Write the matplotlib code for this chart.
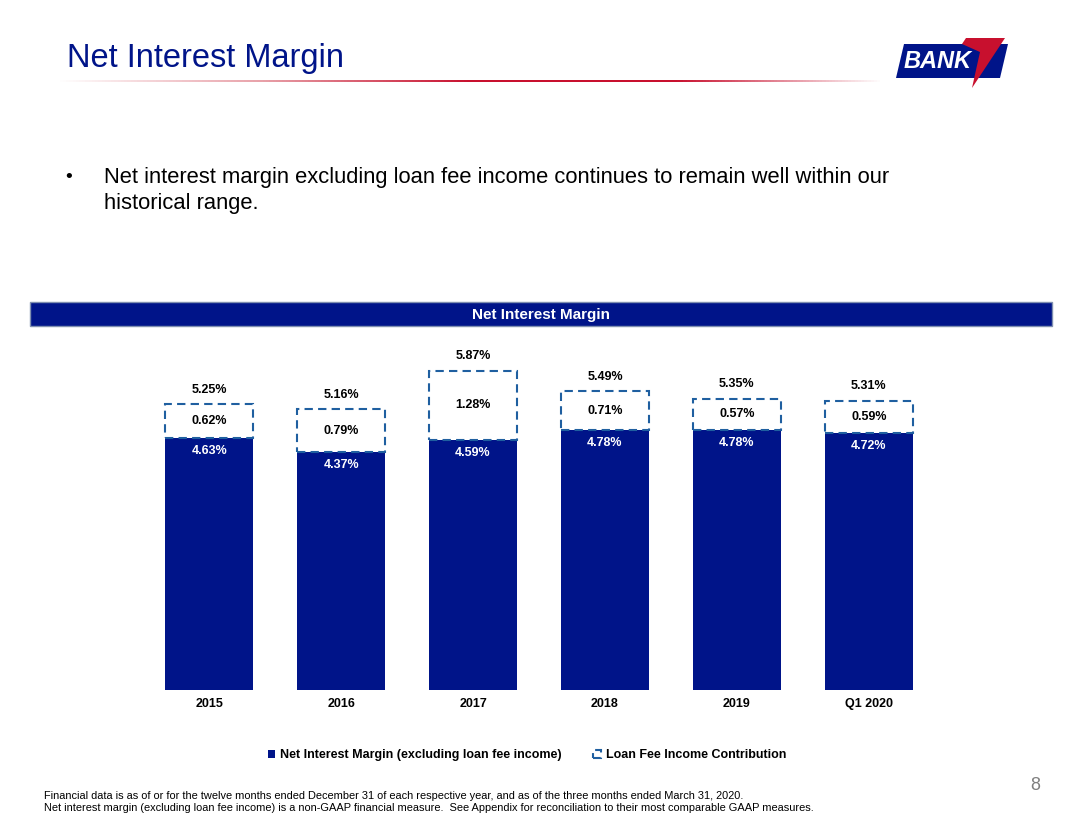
import numpy as np
import matplotlib
matplotlib.use("Agg")
from matplotlib import pyplot as plt
from matplotlib.patches import Rectangle, Polygon

categories = ["2015", "2016", "2017", "2018", "2019", "Q1 2020"]
nim_ex_fee = [4.63, 4.37, 4.59, 4.78, 4.78, 4.72]
fee_contrib = [0.62, 0.79, 1.28, 0.71, 0.57, 0.59]
totals = [5.25, 5.16, 5.87, 5.49, 5.35, 5.31]

NAVY = "#001489"
DASH = "#1F5FA0"
W, H = 1080, 832

fig = plt.figure(figsize=(W / 100, H / 100), dpi=100)
plt.rcParams["font.family"] = ["Liberation Sans", "DejaVu Sans"]


def fx(px):
    return px / W


def fy(py):
    return 1 - py / H


# header
fig.text(fx(67), fy(58), "Net Interest Margin", fontsize=23.5, color=NAVY, va="center")
grad = np.linspace(1, 0, 256).reshape(1, -1)
lax = fig.add_axes([fx(55), fy(82), fx(830), 2.5 / H])
lax.imshow(grad, aspect="auto", cmap=matplotlib.colors.LinearSegmentedColormap.from_list(
    "r", ["#ffffff", "#C8102E", "#C8102E", "#e8a0a8", "#ffffff"]))
lax.axis("off")

# logo
fig.patches.append(Polygon([(fx(896), fy(78)), (fx(1000), fy(78)), (fx(1008), fy(44)), (fx(904), fy(44))],
                           closed=True, facecolor=NAVY, transform=fig.transFigure))
fig.patches.append(Polygon([(fx(966), fy(38)), (fx(1005), fy(38)), (fx(972), fy(88)), (fx(980), fy(52)), (fx(962), fy(44))],
                           closed=True, facecolor="#C8102E", transform=fig.transFigure))
fig.text(fx(938), fy(62), "BANK", fontsize=17, color="white", weight="bold", style="italic",
         ha="center", va="center")

# bullet
fig.text(fx(65), fy(177), "•", fontsize=14, va="center")
fig.text(fx(104), fy(177), "Net interest margin excluding loan fee income continues to remain well within our",
         fontsize=15.8, va="center")
fig.text(fx(104), fy(203), "historical range.", fontsize=15.8, va="center")

# banner
fig.patches.append(Rectangle((fx(30), fy(326)), fx(1022), 24 / H, facecolor=NAVY, edgecolor="#7f8fb0",
                             transform=fig.transFigure))
fig.text(fx(541), fy(315), "Net Interest Margin", color="white", fontsize=11, weight="bold",
         ha="center", va="center")

# chart
ax = fig.add_axes([fx(130), fy(690), fx(818), 350 / H])
x = np.arange(len(categories))
ax.bar(x, nim_ex_fee, width=0.67, color=NAVY, label="Net Interest Margin (excluding loan fee income)")
ax.bar(x, fee_contrib, bottom=nim_ex_fee, width=0.67, facecolor="white", edgecolor=DASH,
       linestyle=(0, (4, 2.5)), linewidth=1.5, label="Loan Fee Income Contribution")
for i in range(len(categories)):
    ax.text(x[i], nim_ex_fee[i] - 0.13, f"{nim_ex_fee[i]:.2f}%", color="white", fontsize=9,
            weight="bold", ha="center", va="top")
    ax.text(x[i], nim_ex_fee[i] + fee_contrib[i] / 2, f"{fee_contrib[i]:.2f}%", fontsize=9,
            weight="bold", ha="center", va="center")
    ax.text(x[i], totals[i] + 0.16, f"{totals[i]:.2f}%", fontsize=9, weight="bold",
            ha="center", va="bottom")
ax.set_xlim(-0.6, 5.6)
ax.set_ylim(0, 350 / 54.4)
ax.set_xticks(x)
ax.set_xticklabels(categories, fontsize=9, weight="bold")
ax.tick_params(axis="x", length=0, pad=6)
ax.set_yticks([])
for s in ax.spines.values():
    s.set_visible(False)
fig.legend(*ax.get_legend_handles_labels(), loc="center", bbox_to_anchor=(fx(527), fy(755)),
           ncol=2, frameon=False, prop={"weight": "bold", "size": 9},
           handlelength=0.6, handleheight=0.6, columnspacing=2.5, handletextpad=0.4)

# footer
fig.text(fx(44), fy(796), "Financial data is as of or for the twelve months ended December 31 of each respective year, and as of the three months ended March 31, 2020.",
         fontsize=7.9, va="center")
fig.text(fx(44), fy(808), "Net interest margin (excluding loan fee income) is a non-GAAP financial measure.  See Appendix for reconciliation to their most comparable GAAP measures.",
         fontsize=7.9, va="center")
fig.text(fx(1040), fy(786), "8", fontsize=13, color="#7f7f7f", ha="right", va="center")

fig.savefig("out.png", dpi=100)
